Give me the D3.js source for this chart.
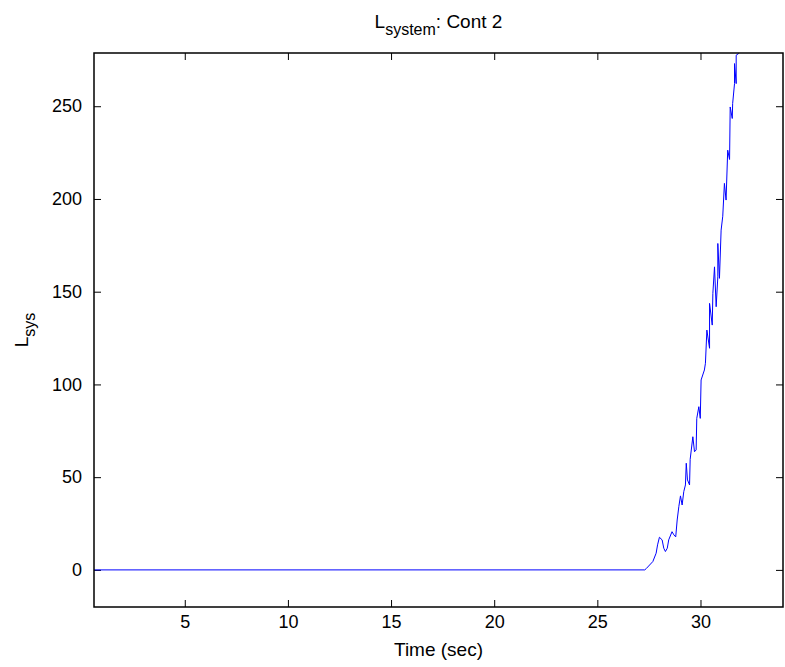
<!DOCTYPE html>
<html>
<head>
<meta charset="utf-8">
<script src="https://cdn.jsdelivr.net/npm/d3@7"></script>
<style>
  body { margin: 0; background: #fff; }
  svg text { font-family: "Liberation Sans", Arial, sans-serif; }
</style>
</head>
<body>
<div class="chart"></div>
<script>
// values
const time = [0.6, 27.30, 27.37, 27.69, 27.85, 27.92, 28.01, 28.14, 28.22, 28.30, 28.39, 28.46,
  28.62, 28.71, 28.80, 28.87, 28.95, 29.03, 29.11, 29.19, 29.27, 29.31, 29.37, 29.47, 29.50, 29.63,
  29.71, 29.79, 29.82, 29.92, 29.99, 30.03, 30.19, 30.24, 30.31, 30.44, 30.44, 30.57, 30.60, 30.68,
  30.76, 30.84, 30.84, 30.92, 31.00, 31.08, 31.16, 31.24, 31.32, 31.41, 31.44, 31.54, 31.56, 31.65,
  31.65, 31.73, 31.73, 31.86];
const lsys = [0, 0, 0.7, 4.5, 9.0, 13.5, 17.6, 16.2, 11.7, 9.9, 11.7, 16.2,
  20.6, 18.9, 17.8, 26.9, 34.1, 39.9, 35.0, 42.2, 45.8, 57.5, 48.5, 45.8, 59.6, 71.8,
  63.7, 64.7, 81.7, 88.0, 81.7, 102.4, 107.8, 111.4, 129.3, 119.5, 143.7, 132.0, 149.1, 163.4,
  141.9, 158.0, 176.0, 157.2, 183.2, 190.7, 208.4, 199.4, 226.3, 221.3, 249.6, 243.4, 251.5, 262.2,
  273.0, 262.2, 277.5, 278.5];
const xTicks = [5, 10, 15, 20, 25, 30];
const yTicks = [0, 50, 100, 150, 200, 250];

const width = 785, height = 667;
const margin = {top: 53, right: 2, bottom: 60, left: 94};
const tick = 7;

const svg = d3.select(".chart").append("svg")
    .attr("width", width)
    .attr("height", height);

const x = d3.scaleLinear([0.6, 34], [margin.left, width - margin.right]);
const y = d3.scaleLinear([-20, 278.7], [height - margin.bottom, margin.top]);

const fmt = d3.format("d");

// bottom axis with labels, ticks pointing in
svg.append("g")
    .attr("transform", `translate(0,${height - margin.bottom})`)
    .call(d3.axisBottom(x).tickValues(xTicks).tickFormat(fmt).tickSizeInner(-tick).tickSizeOuter(0).tickPadding(8))
    .call(g => g.select(".domain").remove())
    .call(g => g.selectAll("text").attr("font-size", 18).attr("fill", "#000"));

svg.append("g")
    .attr("transform", `translate(0,${margin.top})`)
    .call(d3.axisTop(x).tickValues(xTicks).tickFormat("").tickSizeInner(-tick).tickSizeOuter(0))
    .call(g => g.select(".domain").remove());

svg.append("g")
    .attr("transform", `translate(${margin.left},0)`)
    .call(d3.axisLeft(y).tickValues(yTicks).tickFormat(fmt).tickSizeInner(-tick).tickSizeOuter(0).tickPadding(12))
    .call(g => g.select(".domain").remove())
    .call(g => g.selectAll("text").attr("font-size", 18).attr("fill", "#000"));

svg.append("g")
    .attr("transform", `translate(${width - margin.right},0)`)
    .call(d3.axisRight(y).tickValues(yTicks).tickFormat("").tickSizeInner(-tick).tickSizeOuter(0))
    .call(g => g.select(".domain").remove());

// the data line
const line = d3.line()
    .x((d, i) => x(time[i]))
    .y(d => y(d));

svg.append("path")
    .attr("fill", "none")
    .attr("stroke", "#0000ff")
    .attr("stroke-width", 1)
    .attr("stroke-linejoin", "round")
    .attr("d", line(lsys));

// box round the axes
svg.append("rect")
    .attr("x", margin.left)
    .attr("y", margin.top)
    .attr("width", width - margin.right - margin.left)
    .attr("height", height - margin.bottom - margin.top)
    .attr("fill", "none")
    .attr("stroke", "#000")
    .attr("stroke-width", 1.5);

// title
const title = svg.append("text")
    .attr("x", (margin.left + width - margin.right) / 2)
    .attr("y", 28)
    .attr("text-anchor", "middle")
    .attr("font-size", 19);
title.append("tspan").text("L");
title.append("tspan").attr("font-size", 16).attr("dy", 7).text("system");
title.append("tspan").attr("dy", -7).text(": Cont 2");

// axis labels
svg.append("text")
    .attr("x", (margin.left + width - margin.right) / 2)
    .attr("y", 656)
    .attr("text-anchor", "middle")
    .attr("font-size", 19)
    .text("Time (sec)");

const ylab = svg.append("text")
    .attr("transform", `translate(28,${(margin.top + height - margin.bottom) / 2}) rotate(-90)`)
    .attr("text-anchor", "middle")
    .attr("font-size", 19);
ylab.append("tspan").text("L");
ylab.append("tspan").attr("font-size", 16).attr("dy", 7).text("sys");
</script>
</body>
</html>
